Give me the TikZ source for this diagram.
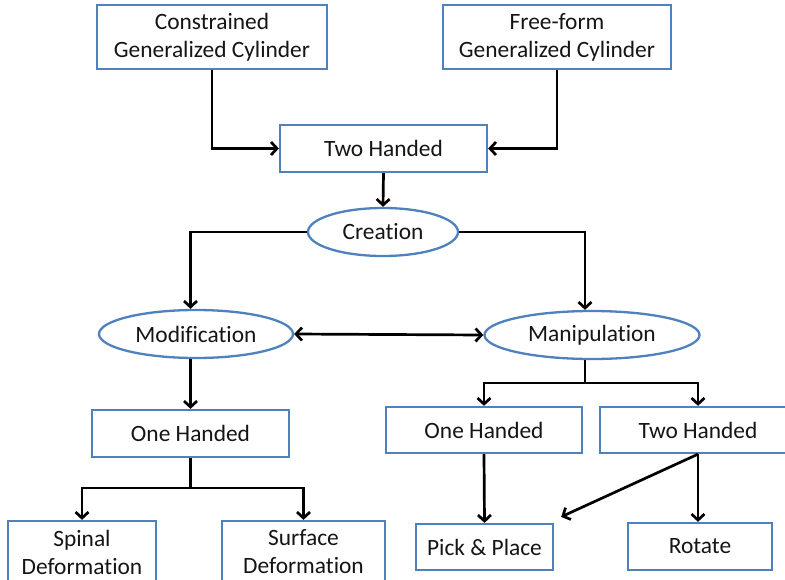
\documentclass[tikz,border=0pt]{standalone}
\usepackage{fontspec}
\setmainfont{Carlito}[Ligatures=NoCommon]
\usetikzlibrary{arrows.meta,calc,shapes.geometric}
\definecolor{boxblue}{HTML}{4F81BD}
\definecolor{txt}{HTML}{151515}
\begin{document}
\begin{tikzpicture}[x=1pt,y=-1pt,
  every node/.style={font=\fontsize{23.4}{28}\selectfont, text=txt, align=center, inner sep=0pt},
  rbox/.style={draw=boxblue, line width=2.3pt, fill=white, rectangle},
  ebox/.style={draw=boxblue, line width=2.3pt, fill=white, ellipse},
  conn/.style={draw=black, line width=2.7pt},
  arr/.style={conn, -{Straight Barb[length=6pt,width=13pt,line width=2.7pt]}},
  darr/.style={conn, {Straight Barb[length=6pt,width=13pt,line width=2.7pt]}-{Straight Barb[length=6pt,width=13pt,line width=2.7pt]}}]
\useasboundingbox (0,0) rectangle (785,579);
\clip (0,0) rectangle (785,579);
\fill[white] (0,0) rectangle (785,579);
% nodes
\node[rbox, minimum width=230pt, minimum height=64pt] (cgc) at (212,37) {Constrained\\Generalized Cylinder};
\node[rbox, minimum width=228pt, minimum height=64pt] (ffgc) at (557,37) {Free-form\\Generalized Cylinder};
\node[rbox, minimum width=207pt, minimum height=47pt] (th1) at (383.5,148.5) {Two Handed};
\node[ebox, minimum width=150pt, minimum height=48pt] (creation) at (383,232) {Creation};
\node[ebox, minimum width=194pt, minimum height=48pt] (modif) at (196,334) {Modification};
\node[ebox, minimum width=215pt, minimum height=48pt] (manip) at (592,335) {Manipulation};
\node[rbox, minimum width=197pt, minimum height=47pt] (oh1) at (190.5,433.5) {One Handed};
\node[rbox, minimum width=148pt, minimum height=62pt] (spinal) at (82,552) {Spinal\\Deformation};
\node[rbox, minimum width=163pt, minimum height=62pt] (surface) at (303.5,552) {Surface\\Deformation};
\node[rbox, minimum width=196pt, minimum height=46pt] (oh2) at (484,430) {One Handed};
\node[rbox, minimum width=196pt, minimum height=46pt] (th2) at (698,430) {Two Handed};
\node[rbox, minimum width=137pt, minimum height=46pt] (pp) at (484.5,547) {Pick \& Place};
\node[rbox, minimum width=144pt, minimum height=47pt] (rot) at (700,546.5) {Rotate};
% junctions
\coordinate (mx) at (585,0);
\coordinate (jl) at (190.5,488);
\coordinate (jr) at (585,383);
\coordinate (ppin) at ($(pp.north east)+(7,-6)$);
% connectors
\draw[arr] (cgc.south) |- (th1.west);
\draw[arr] (ffgc.south) |- (th1.east);
\draw[arr] (th1.south) -- (creation.north);
\draw[arr] (creation.west) -| (modif.north -| oh1.north);
\draw[arr] (creation.east) -| (mx |- manip.north);
\draw[darr] (modif.east) -- (manip.west);
\draw[arr] (oh1.north |- modif.south) -- (oh1.north);
\draw[conn] (oh1.south) -- (jl);
\draw[arr] (jl) -| (spinal.north);
\draw[arr] (jl) -| (surface.north);
\draw[conn] (mx |- manip.south) -- (jr);
\draw[arr] (jr) -| (oh2.north);
\draw[arr] (jr) -| (th2.north);
\draw[arr] (oh2.south) -- (pp.north);
\draw[arr] (th2.south) -- (th2.south |- rot.north);
\draw[arr] (th2.south) -- (ppin);
\end{tikzpicture}
\end{document}
